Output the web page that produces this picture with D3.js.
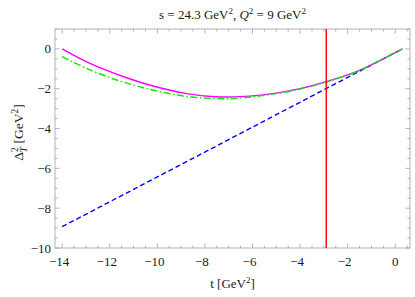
<!DOCTYPE html>
<html>
<head>
<meta charset="utf-8">
<script src="https://cdn.jsdelivr.net/npm/d3@7"></script>
<style>
  body { margin: 0; background: #fff; }
  svg { display: block; }
  svg text { font-family: "Liberation Serif", "Times New Roman", serif; fill: #1a1a1a; }
</style>
</head>
<body>
<svg width="415" height="297"></svg>
<script>
// values
const tMagenta = [-14, -12.9, -11.5, -10.1, -8.7, -7.58, -6.74, -5.55, -4.15, -2.89, -1.63, -0.65, 0.3];
const yMagenta = [0, -0.69, -1.36, -1.89, -2.26, -2.40, -2.41, -2.31, -2.03, -1.64, -1.14, -0.59, 0];
const tGreen = [-14, -12.9, -11.5, -10.1, -8.7, -7.58, -6.74, -5.55, -4.15, -2.89, -1.63, -0.65, 0.3];
const yGreen = [-0.39, -1.02, -1.64, -2.09, -2.40, -2.49, -2.49, -2.34, -2.06, -1.66, -1.15, -0.59, 0];
const tBlue = [-14, -10, -6, -2.9, 0.3];
const yBlue = [-8.93, -6.43, -3.93, -1.99, 0];
const tRed = -2.9;
const xTicks = [-14, -12, -10, -8, -6, -4, -2, 0];
const yTicks = [-10, -8, -6, -4, -2, 0];

const svg = d3.select("svg");
const mLeft = 55, mRight = 410, mTop = 29, mBottom = 248;

const x = d3.scaleLinear().domain([-14.3, 0.62]).range([mLeft, mRight]);
const y = d3.scaleLinear().domain([-10, 1]).range([mBottom, mTop]);

const frameColor = "#a0a0a0";
const fmt = d => d < 0 ? "\u2212" + Math.abs(d) : String(d);

// frame ticks (inside, all four sides)
const xMinor = d3.range(-14.5, 0.7, 0.5).filter(d => d >= -14.3 && d <= 0.62 && !xTicks.includes(d));
const yMinor = d3.range(-10, 1.01, 0.5).filter(d => !yTicks.includes(d));

const g = svg.append("g");
function tickLines(vals, len, horizontal) {
  vals.forEach(v => {
    if (horizontal) {
      const px = x(v);
      g.append("line").attr("x1", px).attr("x2", px).attr("y1", mBottom).attr("y2", mBottom - len);
      g.append("line").attr("x1", px).attr("x2", px).attr("y1", mTop).attr("y2", mTop + len);
    } else {
      const py = y(v);
      g.append("line").attr("y1", py).attr("y2", py).attr("x1", mLeft).attr("x2", mLeft + len);
      g.append("line").attr("y1", py).attr("y2", py).attr("x1", mRight).attr("x2", mRight - len);
    }
  });
}
tickLines(xTicks, 4.5, true);
tickLines(xMinor, 2.5, true);
tickLines(yTicks, 4.5, false);
tickLines(yMinor, 2.5, false);
g.selectAll("line").attr("stroke", frameColor).attr("stroke-width", 0.8);

svg.append("rect")
  .attr("x", mLeft).attr("y", mTop)
  .attr("width", mRight - mLeft).attr("height", mBottom - mTop)
  .attr("fill", "none").attr("stroke", frameColor).attr("stroke-width", 0.8);

// tick labels
svg.append("g").selectAll("text").data(xTicks).join("text")
  .attr("x", d => x(d) - (d < 0 ? 3 : 0))
  .attr("y", 266)
  .attr("text-anchor", "middle")
  .attr("font-size", 13)
  .text(fmt);

svg.append("g").selectAll("text").data(yTicks).join("text")
  .attr("x", mLeft - 4)
  .attr("y", d => y(d) + 4.5)
  .attr("text-anchor", "end")
  .attr("font-size", 13)
  .text(fmt);

// curves
const line = d3.line().x(d => x(d[0])).y(d => y(d[1]));
const plot = svg.append("g");

plot.append("path")
  .datum(d3.zip(tBlue, yBlue))
  .attr("d", line.curve(d3.curveLinear))
  .attr("fill", "none").attr("stroke", "#0000ff").attr("stroke-width", 1.4)
  .attr("stroke-dasharray", "5,3");

line.curve(d3.curveCatmullRom);

plot.append("path")
  .datum(d3.zip(tMagenta, yMagenta))
  .attr("d", line)
  .attr("fill", "none").attr("stroke", "#ff00ff").attr("stroke-width", 1.4);

plot.append("path")
  .datum(d3.zip(tGreen, yGreen))
  .attr("d", line)
  .attr("fill", "none").attr("stroke", "#00ee00").attr("stroke-width", 1.4)
  .attr("stroke-dasharray", "7,2.5,1.5,2.5");

plot.append("line")
  .attr("x1", x(tRed)).attr("x2", x(tRed))
  .attr("y1", mTop).attr("y2", mBottom)
  .attr("stroke", "#ff0000").attr("stroke-width", 1.4);

// title
const title = svg.append("text")
  .attr("x", (mLeft + mRight) / 2).attr("y", 19)
  .attr("text-anchor", "middle").attr("font-size", 13);
title.append("tspan").text("s = 24.3 GeV");
title.append("tspan").attr("dy", -5).attr("font-size", 9).text("2");
title.append("tspan").attr("dy", 5).text(", ");
title.append("tspan").attr("font-style", "italic").text("Q");
title.append("tspan").attr("dy", -5).attr("font-size", 9).text("2");
title.append("tspan").attr("dy", 5).text(" = 9 GeV");
title.append("tspan").attr("dy", -5).attr("font-size", 9).text("2");

// x label
const xl = svg.append("text")
  .attr("x", (mLeft + mRight) / 2).attr("y", 288)
  .attr("text-anchor", "middle").attr("font-size", 13);
xl.append("tspan").text("t [GeV");
xl.append("tspan").attr("dy", -5).attr("font-size", 9).text("2");
xl.append("tspan").attr("dy", 5).text("]");

// y label
const yl = svg.append("text")
  .attr("transform", `translate(23,${(mTop + mBottom) / 2 - 6}) rotate(-90)`)
  .attr("text-anchor", "middle").attr("font-size", 13.5);
yl.append("tspan").text("\u0394");
yl.append("tspan").attr("dy", -5).attr("font-size", 9.5).text("2");
yl.append("tspan").attr("dx", -5).attr("dy", 9).attr("font-size", 9.5).attr("font-style", "italic").text("T");
yl.append("tspan").attr("dy", -4).text(" [GeV");
yl.append("tspan").attr("dy", -5).attr("font-size", 9.5).text("2");
yl.append("tspan").attr("dy", 5).text("]");
</script>
</body>
</html>
